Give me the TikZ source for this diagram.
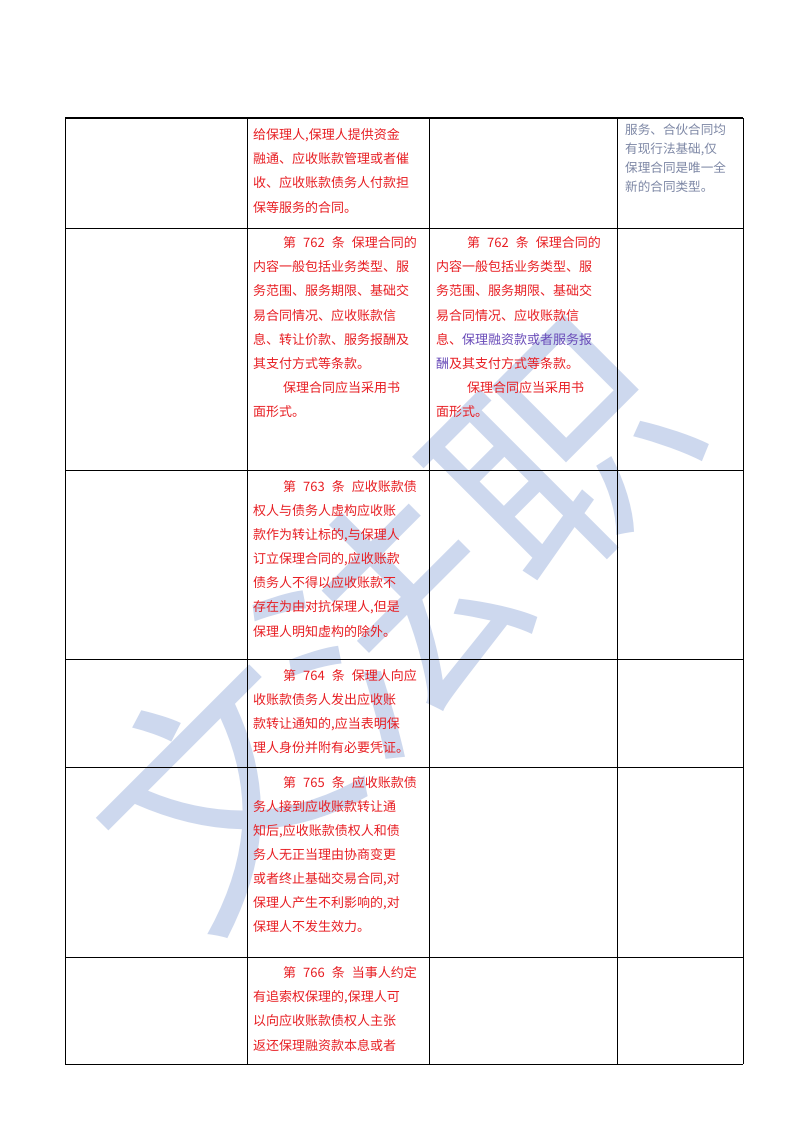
\documentclass[tikz,border=0pt]{standalone}
\usepackage{fontspec}
\newfontfamily\cjk{Noto Sans CJK SC}
\definecolor{rd}{RGB}{232,30,35}
\definecolor{pu}{RGB}{105,75,185}
\definecolor{gb}{RGB}{125,135,165}
\definecolor{wm}{RGB}{205,216,238}
\newcommand{\gapq}{\hspace{7pt}}
\begin{document}
\begin{tikzpicture}[x=1pt,y=-1pt,
  t/.style={anchor=west,inner sep=0pt,font=\cjk\fontsize{13}{13}\selectfont,text=rd},
  g/.style={anchor=west,inner sep=0pt,font=\cjk\fontsize{12.6}{12.6}\selectfont,text=gb}]
\useasboundingbox (0,0) rectangle (800,1132);
\fill[white] (0,0) rectangle (800,1132);
% watermark
\node[font=\cjk\fontsize{240}{240}\selectfont,text=wm,rotate=45] (wmk) at (390,620) {文法职};
% grid
\draw[line width=1.4pt] (65,118) -- (743,118);
\foreach \y in {228,470,659,767,957}{\draw[line width=0.7pt] (65,\y) -- (743,\y);}
\draw[line width=1pt] (65,1064) -- (743,1064);
\foreach \x in {65,247,429,617,743}{\draw[line width=0.7pt] (\x,118) -- (\x,1064);}
% row1
\node[t] (a1) at (253,135) {给保理人,保理人提供资金};
\node[t] (a2) at (253,159) {融通、应收账款管理或者催};
\node[t] (a3) at (253,183) {收、应收账款债务人付款担};
\node[t] (a4) at (253,208) {保等服务的合同。};
\node[g] (r1) at (625,130) {服务、合伙合同均};
\node[g] (r2) at (625,149) {有现行法基础,仅};
\node[g] (r3) at (625,168) {保理合同是唯一全};
\node[g] (r4) at (625,187) {新的合同类型。};
% row2
\node[t] (b1) at (283,243) {第\gapq{}762\gapq{}条\gapq{}保理合同的};
\node[t] (b2) at (253,267) {内容一般包括业务类型、服};
\node[t] (b3) at (253,291) {务范围、服务期限、基础交};
\node[t] (b4) at (253,316) {易合同情况、应收账款信};
\node[t] (b5) at (253,340) {息、转让价款、服务报酬及};
\node[t] (b6) at (253,364) {其支付方式等条款。};
\node[t] (b7) at (283,388) {保理合同应当采用书};
\node[t] (b8) at (253,412) {面形式。};
\node[t] (c1) at (467,243) {第\gapq{}762\gapq{}条\gapq{}保理合同的};
\node[t] (c2) at (436,267) {内容一般包括业务类型、服};
\node[t] (c3) at (436,291) {务范围、服务期限、基础交};
\node[t] (c4) at (436,316) {易合同情况、应收账款信};
\node[t] (c5) at (436,340) {息、\textcolor{pu}{保理融资款或者服务报}};
\node[t] (c6) at (436,364) {\textcolor{pu}{酬}及其支付方式等条款。};
\node[t] (c7) at (467,388) {保理合同应当采用书};
\node[t] (c8) at (436,412) {面形式。};
% row3
\node[t] (d1) at (283,487) {第\gapq{}763\gapq{}条\gapq{}应收账款债};
\node[t] (d2) at (253,511) {权人与债务人虚构应收账};
\node[t] (d3) at (253,535) {款作为转让标的,与保理人};
\node[t] (d4) at (253,559) {订立保理合同的,应收账款};
\node[t] (d5) at (253,583) {债务人不得以应收账款不};
\node[t] (d6) at (253,607) {存在为由对抗保理人,但是};
\node[t] (d7) at (253,632) {保理人明知虚构的除外。};
% row4
\node[t] (e1) at (283,676) {第\gapq{}764\gapq{}条\gapq{}保理人向应};
\node[t] (e2) at (253,700) {收账款债务人发出应收账};
\node[t] (e3) at (253,724) {款转让通知的,应当表明保};
\node[t] (e4) at (253,748) {理人身份并附有必要凭证。};
% row5
\node[t] (f1) at (283,783) {第\gapq{}765\gapq{}条\gapq{}应收账款债};
\node[t] (f2) at (253,807) {务人接到应收账款转让通};
\node[t] (f3) at (253,831) {知后,应收账款债权人和债};
\node[t] (f4) at (253,855) {务人无正当理由协商变更};
\node[t] (f5) at (253,879) {或者终止基础交易合同,对};
\node[t] (f6) at (253,903) {保理人产生不利影响的,对};
\node[t] (f7) at (253,927) {保理人不发生效力。};
% row6
\node[t] (h1) at (283,973) {第\gapq{}766\gapq{}条\gapq{}当事人约定};
\node[t] (h2) at (253,997) {有追索权保理的,保理人可};
\node[t] (h3) at (253,1021) {以向应收账款债权人主张};
\node[t] (h4) at (253,1045) {返还保理融资款本息或者};
\end{tikzpicture}
\end{document}
